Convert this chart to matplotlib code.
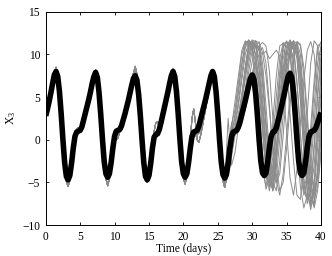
import numpy as np
import matplotlib
matplotlib.use('Agg')
import matplotlib.pyplot as plt

# Шрифт в стиле MATLAB (Times)
plt.rcParams['font.family'] = 'Liberation Serif'
plt.rcParams['font.size'] = 8.3
plt.rcParams['mathtext.default'] = 'regular'

# Контрольная траектория (жирная черная), шаг 0.25 дня, t = 0..40
t_truth = np.linspace(0, 40, 161)
x3_truth = [
    2.8, 3.6, 4.5, 5.5, 6.6, 7.6, 8.0,
    7.4, 5.6, 3.0, 0.0, -2.7, -4.3, -4.7,
    -4.2, -2.8, -1.0, 0.4, 0.9, 1.0, 1.1, 1.5, 2.3, 3.1, 3.9, 4.7, 5.6, 6.6, 7.4, 7.9,
    7.3, 5.5, 2.9, 0.0, -2.6, -4.0, -4.4,
    -4.0, -2.7, -1.0, 0.4, 1.0, 1.1, 1.2, 1.6, 2.3, 3.0, 3.8, 4.6, 5.5, 6.4, 7.2, 7.5,
    7.0, 5.3, 2.8, -0.1, -2.7, -4.3, -4.7,
    -4.2, -2.8, -1.0, 0.3, 0.6, 0.7, 1.2, 2.0, 2.9, 3.8, 4.7, 5.6, 6.6, 7.5, 8.0,
    7.4, 5.6, 3.0, 0.0, -2.6, -4.0, -4.4,
    -4.0, -2.7, -1.0, 0.4, 0.9, 1.0, 1.1, 1.6, 2.4, 3.2, 4.0, 4.8, 5.7, 6.6, 7.5, 8.0,
    7.4, 5.6, 3.0, 0.0, -2.6, -4.1, -4.5,
    -4.1, -2.8, -1.0, 0.4, 0.9, 1.0, 1.1, 1.5, 2.2, 3.0, 3.8, 4.6, 5.5, 6.4, 7.2, 7.6,
    7.1, 5.4, 2.9, 0.0, -2.5, -3.9, -4.2,
    -3.9, -2.6, -0.9, 0.4, 0.9, 1.0, 1.4, 2.2, 3.0, 3.9, 4.8, 5.7, 6.7, 7.5, 7.8,
    7.3, 5.5, 2.9, 0.0, -2.5, -3.9, -4.2,
    -3.9, -2.6, -0.9, 0.4, 0.9, 1.0, 1.1, 1.4, 2.0, 2.6, 3.2,
]

# Начало ансамбля (два варианта), шаг 0.25 дня, t = 0..26
t_early = np.linspace(0, 26, 105)
early_a = [
    2.7, 3.5, 4.5, 5.6, 6.8, 7.9, 8.5,
    7.8, 5.8, 3.0, -0.2, -3.0, -4.9, -5.5,
    -4.8, -3.2, -1.2, 0.5, 1.3, 1.4, 1.1, 1.4, 2.2, 3.0, 3.9, 4.7, 5.6, 6.6, 7.5, 8.0,
    7.4, 5.6, 2.9, -0.2, -2.9, -4.6, -5.3,
    -4.7, -3.0, -1.0, 0.3, 0.0, 0.2, 0.9, 1.6, 2.4, 3.2, 4.0, 4.9, 5.8, 6.8, 7.8, 8.3,
    7.5, 5.5, 2.7, -0.3, -3.0, -4.6, -5.0,
    -4.4, -2.7, -0.8, 1.0, 2.0, 2.1, 1.5, 2.2, 3.0, 3.9, 4.8, 5.7, 6.7, 7.6, 8.1,
    7.5, 5.6, 2.9, -0.2, -2.9, -4.5, -5.2,
    -4.3, -2.5, 0.0, 2.5, 3.6, 2.0, 0.0, -0.3, 0.5, 1.5, 2.6, 3.7, 4.9, 6.1, 7.3, 8.2,
    7.8, 6.0, 3.2, 0.0, -3.0, -4.8, -5.6,
]
early_b = [
    2.9, 3.7, 4.6, 5.5, 6.5, 7.6, 8.2,
    7.6, 5.7, 3.1, 0.1, -2.8, -4.6, -5.2,
    -4.6, -3.0, -1.1, 0.4, 1.0, 1.1, 1.2, 1.6, 2.4, 3.2, 4.0, 4.8, 5.7, 6.7, 7.6, 8.2,
    7.6, 5.8, 3.1, 0.1, -2.7, -4.5, -5.4,
    -4.5, -2.9, -1.0, 0.5, 1.2, 1.3, 1.4, 1.8, 2.5, 3.2, 4.0, 4.8, 5.8, 6.8, 7.8, 8.6,
    7.7, 5.6, 2.9, -0.1, -2.8, -4.5, -5.0,
    -4.5, -3.0, -1.2, 0.2, 0.6, 0.8, 1.3, 2.1, 3.0, 3.9, 4.8, 5.7, 6.7, 7.6, 8.3,
    7.7, 5.8, 3.2, 0.2, -2.6, -4.3, -5.0,
    -4.4, -3.0, -1.5, -0.2, 0.3, 0.5, 0.6, 0.8, 1.3, 2.0, 2.8, 3.8, 4.8, 5.9, 7.0, 7.8,
    7.9, 6.4, 3.8, 0.7, -2.3, -4.4, -5.5,
]

# Расхождение членов ансамбля, шаг 0.5 дня, t = 26.5..40
t_late = np.linspace(26.5, 40, 28)
late_members = [
    ('a', [-1.0, 1.5, 4.5, 7.5, 10.5, 11.6, 11.3, 11.0, 9.0, 4.0, -1.5, -4.5, -5.0, -2.0,
           3.0, 8.0, 11.2, 11.5, 10.5, 6.0, 0.5, -4.0, -6.5, -5.0, 0.0, 6.0, 10.5, 11.5]),
    ('b', [-2.0, 0.8, 3.0, 6.0, 9.0, 11.2, 11.7, 11.2, 10.8, 11.0, 8.0, 2.0, -3.5, -6.0,
           -4.5, 0.0, 5.0, 9.5, 11.5, 11.0, 7.0, 1.0, -5.0, -7.5, -6.0, -1.0, 5.0, 9.0]),
    ('a', [-2.8, 0.5, 1.5, 4.0, 7.0, 10.0, 11.5, 10.5, 6.0, 1.0, -3.5, -5.5, -3.0, 2.0,
           7.5, 11.0, 11.3, 8.5, 3.0, -2.5, -6.5, -7.0, -3.0, 3.0, 9.0, 11.6, 11.0, 7.5]),
    ('b', [-3.0, 0.3, 1.2, 3.0, 5.5, 8.5, 11.0, 11.6, 11.2, 9.5, 5.0, 0.0, -4.0, -5.5,
           -2.0, 4.0, 9.5, 11.6, 10.0, 5.0, -1.0, -5.5, -8.0, -6.5, -2.0, 4.0, 9.0, 11.0]),
    ('a', [-3.5, -0.5, 1.0, 2.0, 4.5, 7.5, 10.0, 11.5, 11.0, 10.5, 10.8, 9.0, 4.0, -1.5,
           -5.0, -4.0, 0.5, 6.0, 10.5, 11.6, 10.5, 6.5, 1.0, -4.5, -7.0, -7.8, -3.0, 3.0]),
    ('b', [-3.0, 0.0, 1.0, 2.5, 5.0, 8.0, 10.5, 11.3, 10.0, 7.0, 2.0, -3.0, -5.5, -4.0,
           1.0, 6.5, 10.5, 10.0, 10.3, 9.8, 10.5, 8.0, 2.0, -4.0, -7.5, -5.0, 1.5, 7.5]),
    ('b', [-4.0, -1.0, 0.9, 1.2, 2.5, 4.2, 6.0, 7.8, 9.5, 11.0, 11.4, 11.0, 8.0, 2.5,
           -3.0, -6.0, -5.0, -1.0, 4.0, 9.0, 11.5, 11.2, 8.5, 3.0, -2.5, -6.0, -4.0, 1.0]),
    ('a', [-1.5, 2.0, 0.5, 2.0, 5.0, 8.5, 11.0, 11.7, 11.5, 8.0, 3.0, -2.0, -4.8, -3.0,
           1.5, 5.5, 8.5, 11.0, 11.7, 11.0, 10.0, 5.0, -1.0, -6.0, -8.2, -6.0, -1.0, 5.0]),
    ('b', [-3.8, -1.5, 0.8, 1.0, 2.0, 3.8, 5.6, 7.5, 9.0, 6.0, 1.0, -3.5, -5.5, -5.0,
           -1.0, 3.5, 7.5, 10.5, 11.5, 9.0, 4.0, -2.0, -6.0, -7.0, -3.5, 2.0, 7.5, 11.0]),
    ('a', [2.5, -3.0, -1.5, 1.5, 5.0, 8.5, 11.3, 11.5, 10.0, 6.0, 1.0, -4.0, -6.0, -3.5,
           1.5, 7.0, 10.8, 11.5, 11.0, 10.6, 11.2, 9.0, 3.5, -2.5, -6.5, -7.5, -4.0, 2.0]),
    ('b', [-3.5, -0.5, 1.0, 1.8, 3.5, 6.0, 9.0, 11.2, 11.6, 10.5, 10.0, 10.4, 9.5, 10.0,
           10.5, 9.8, 6.0, 1.0, -4.5, -6.5, -3.5, 2.0, 7.0, 10.5, 11.5, 10.0, 5.0, -1.0]),
    ('a', [-3.2, -0.2, 1.1, 2.2, 4.5, 7.2, 9.8, 11.4, 11.0, 8.5, 4.0, -1.0, -5.0, -5.8,
           -2.5, 2.5, 7.0, 10.0, 11.6, 10.5, 6.5, 0.5, -4.5, -7.0, -5.5, -0.5, 5.5, 10.0]),
    ('b', [-4.2, -2.0, 0.5, 1.0, 1.8, 3.5, 5.5, 7.5, 8.5, 7.5, 4.0, -1.0, -4.5, -6.0,
           -3.0, 2.0, 6.0, 8.0, 10.0, 11.3, 11.0, 7.0, 0.0, -5.0, -6.0, -3.0, 2.5, 8.0]),
    ('a', [-2.2, 1.0, 2.5, 5.5, 8.8, 11.3, 11.6, 10.8, 11.2, 10.5, 6.5, 1.5, -3.0, -4.5,
           -1.0, 3.5, 8.0, 10.5, 9.5, 10.2, 11.5, 11.0, 7.5, 2.0, -3.5, -6.5, -4.5, 0.0]),
    ('b', [-3.6, -0.8, 1.0, 1.5, 3.0, 5.5, 8.0, 10.5, 11.6, 11.3, 9.0, 4.0, -1.5, -5.0,
           -6.0, -2.5, 3.0, 8.0, 11.0, 11.6, 9.5, 4.5, -1.5, -6.0, -7.8, -5.0, 0.5, 6.0]),
    ('a', [-2.5, 0.5, 2.0, 4.5, 7.8, 10.8, 11.7, 11.0, 7.5, 2.5, -2.5, -5.8, -4.5, 0.0,
           5.0, 9.5, 11.4, 10.8, 11.3, 8.0, 2.5, -3.0, -6.0, -4.0, 1.5, 7.0, 11.0, 11.3]),
    ('b', [-3.9, -1.2, 0.9, 1.3, 2.8, 4.8, 7.0, 9.2, 11.0, 11.5, 10.2, 7.5, 3.5, -1.0,
           -4.8, -6.5, -4.0, 0.5, 5.5, 9.5, 11.4, 10.0, 5.0, -0.5, -5.5, -8.0, -6.0, -1.5]),
    ('a', [-1.8, 1.8, 3.5, 6.8, 10.0, 11.5, 11.0, 10.5, 11.1, 10.8, 7.0, 2.0, -2.0, -3.8,
           -1.5, 2.5, 6.5, 9.0, 10.5, 11.6, 11.2, 8.5, 4.0, -1.0, -5.0, -7.0, -5.5, -1.0]),
]

fig = plt.figure(figsize=(3.32, 2.56), dpi=100)
ax = fig.add_axes([0.1377, 0.121, 0.8293, 0.833])

t_member = np.concatenate([t_early, t_late])
for variant, late in late_members:
    early = early_a if variant == 'a' else early_b
    ax.plot(t_member, list(early) + late, color='#8c8c8c', lw=0.7)

ax.plot(t_truth, x3_truth, color='black', lw=4.0, solid_capstyle='butt')

ax.set_xlim(0, 40)
ax.set_ylim(-10, 15)
ax.set_xticks(range(0, 41, 5))
ax.set_yticks(range(-10, 16, 5))
ax.tick_params(direction='in', top=True, right=True, length=2.5, width=0.6, pad=4)
for s in ax.spines.values():
    s.set_linewidth(0.7)
ax.set_xlabel('Time (days)', labelpad=0.5)
ax.set_ylabel('X$_3$', labelpad=3)

fig.savefig('out.png', dpi=100)
